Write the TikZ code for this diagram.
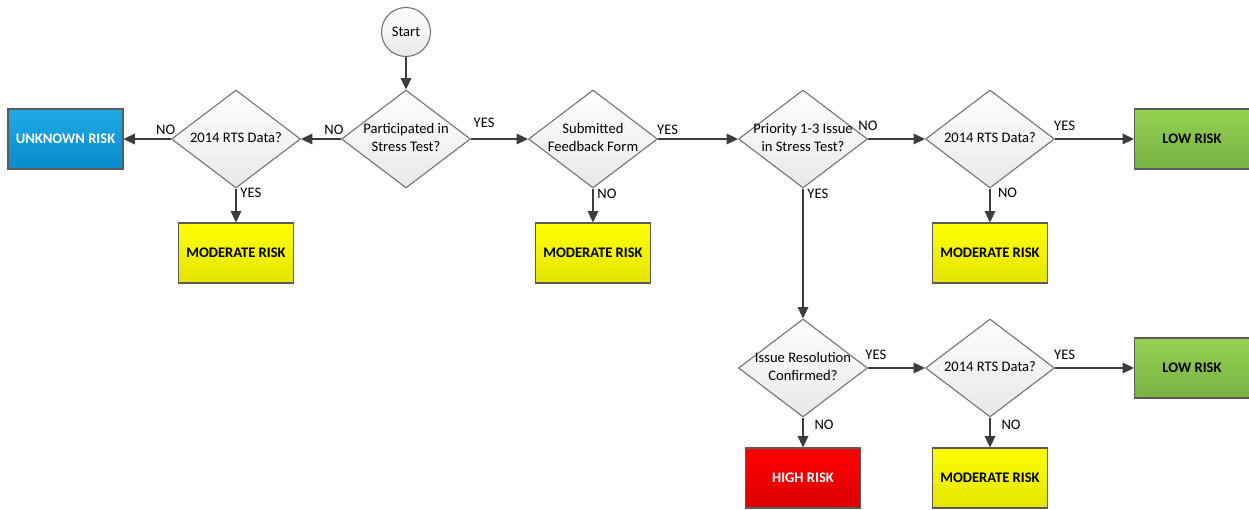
\documentclass[tikz,border=0pt]{standalone}
\usepackage{fontspec}
\setmainfont{Carlito}
\usetikzlibrary{shapes,arrows.meta}

\definecolor{arrowgray}{HTML}{3C3C3C}
\definecolor{dborder}{HTML}{6E6E6E}
\definecolor{boxborder}{HTML}{5A5A5A}
\definecolor{bluetop}{HTML}{1FAAE4}
\definecolor{bluebot}{HTML}{0A8CCC}
\definecolor{yellowtop}{HTML}{FFFF00}
\definecolor{yellowbot}{HTML}{E4E400}
\definecolor{greentop}{HTML}{94D152}
\definecolor{greenbot}{HTML}{78B242}
\definecolor{redtop}{HTML}{FF0000}
\definecolor{redbot}{HTML}{DA0000}

% text of a decision, kept from widening the diamond
\newcommand{\dtext}[1]{\makebox[0pt]{\begin{tabular}{@{}c@{}}#1\end{tabular}}}

\begin{document}
\begin{tikzpicture}[
                x=0.02cm, y=-0.02cm,
                every node/.style={font=\fontsize{8.3}{9.8}\selectfont},
                startnode/.style={
                        circle,
                        draw=dborder,
                        line width=0.6pt,
                        top color=white,
                        bottom color=gray!18,
                        minimum size=0.98cm,
                        inner sep=0pt
                    },
                decision/.style={
                        diamond,
                        draw=dborder,
                        line width=0.6pt,
                        top color=white,
                        bottom color=gray!18,
                        minimum width=2.58cm,
                        minimum height=1.96cm,
                        inner sep=0pt
                    },
                riskbox/.style={
                        rectangle,
                        draw=boxborder,
                        line width=0.6pt,
                        minimum width=2.3cm,
                        minimum height=1.2cm,
                        font=\fontsize{8.3}{9.8}\selectfont\bfseries
                    },
                unknown/.style={top color=bluetop, bottom color=bluebot, text=white},
                moderate/.style={top color=yellowtop, bottom color=yellowbot},
                low/.style={top color=greentop, bottom color=greenbot},
                high/.style={top color=redtop, bottom color=redbot, text=white},
                flow/.style={draw=arrowgray, line width=1.1pt, -{Triangle[length=6.5pt,width=6pt]}},
                lbl/.style={inner sep=2pt}
            ]
            \useasboundingbox (0,0) rectangle (1249,510);

            % Nós principais posicionados manualmente
            \node[startnode] (start) at (406,32) {Start};
            \node[decision] (stress) at (406,139) {\dtext{Participated in\\Stress Test?}};
            \node[decision] (rtsa) at (236,139) {\dtext{2014 RTS Data?}};
            \node[riskbox, unknown] (unknown) at (65.5,139) {UNKNOWN RISK};
            \node[riskbox, moderate] (moda) at (236,253) {MODERATE RISK};
            \node[decision] (feedback) at (593,139) {\dtext{Submitted\\Feedback Form}};
            \node[riskbox, moderate] (modb) at (593,253) {MODERATE RISK};
            \node[decision] (priority) at (803,139) {\dtext{Priority 1-3 Issue\\in Stress Test?}};
            \node[decision] (rtsb) at (990,139) {\dtext{2014 RTS Data?}};
            \node[riskbox, low] (lowa) at (1192,139) {LOW RISK};
            \node[riskbox, moderate] (modc) at (990,253) {MODERATE RISK};
            \node[decision] (resolved) at (803,368) {\dtext{Issue Resolution\\Confirmed?}};
            \node[decision] (rtsc) at (990,368) {\dtext{2014 RTS Data?}};
            \node[riskbox, low] (lowb) at (1192,368) {LOW RISK};
            \node[riskbox, high] (high) at (803,478) {HIGH RISK};
            \node[riskbox, moderate] (modd) at (990,478) {MODERATE RISK};

            % Setas com rótulos
            \draw[flow] (start) -- (stress);
            \draw[flow] (stress) -- node[lbl, pos=0, above left, xshift=4pt] {NO} (rtsa);
            \draw[flow] (rtsa) -- node[lbl, pos=0, above left, xshift=5pt] {NO} (unknown);
            \draw[flow] (rtsa) -- node[lbl, pos=0, below right, yshift=3pt] {YES} (moda);
            \draw[flow] (stress) -- node[lbl, pos=0, above right, yshift=4pt, xshift=-1pt] {YES} (feedback);
            \draw[flow] (feedback) -- node[lbl, pos=0, below right, yshift=2pt] {NO} (modb);
            \draw[flow] (feedback) -- node[lbl, pos=0, above right, xshift=-3pt] {YES} (priority);
            \draw[flow] (priority) -- node[lbl, pos=0, above, yshift=2pt] {NO} (rtsb);
            \draw[flow] (priority) -- node[lbl, pos=0, below right, yshift=2pt] {YES} (resolved);
            \draw[flow] (rtsb) -- node[lbl, pos=0, above right, xshift=-3pt, yshift=2pt] {YES} (lowa);
            \draw[flow] (rtsb) -- node[lbl, pos=0, below right, xshift=2pt, yshift=3pt] {NO} (modc);
            \draw[flow] (resolved) -- node[lbl, pos=0, above right, xshift=-4pt, yshift=2pt] {YES} (rtsc);
            \draw[flow] (resolved) -- node[lbl, pos=0, below right, xshift=4pt, yshift=1pt] {NO} (high);
            \draw[flow] (rtsc) -- node[lbl, pos=0, above right, xshift=-3pt, yshift=2pt] {YES} (lowb);
            \draw[flow] (rtsc) -- node[lbl, pos=0, below right, xshift=4pt, yshift=1pt] {NO} (modd);

        \end{tikzpicture}
\end{document}
